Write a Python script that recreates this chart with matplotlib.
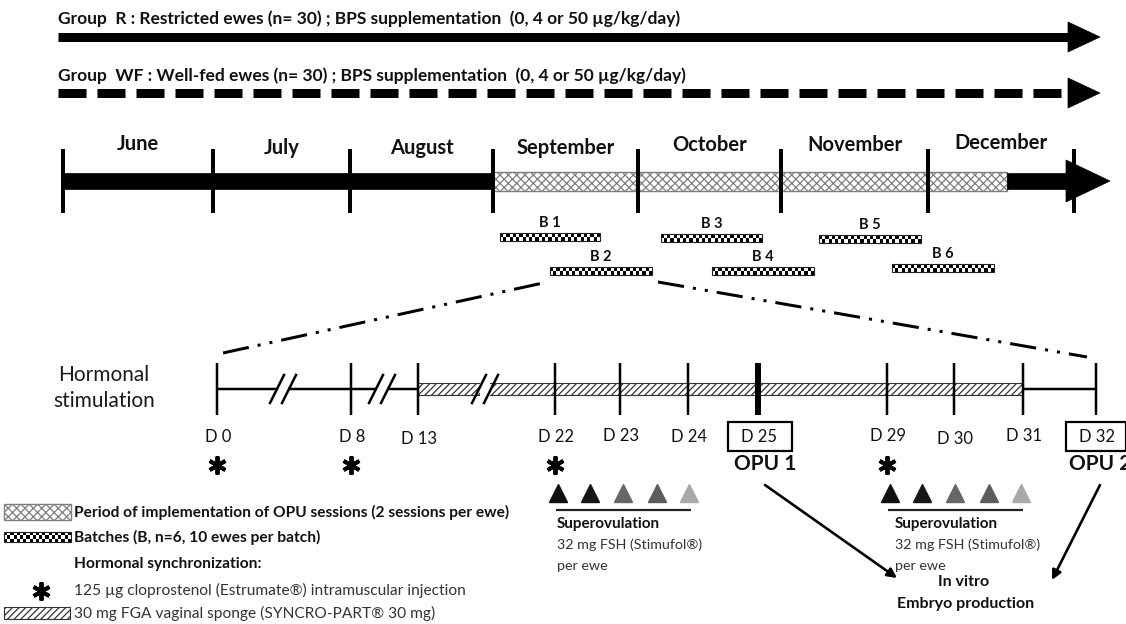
import numpy as np
import matplotlib
matplotlib.use("Agg")
import matplotlib.pyplot as plt
from matplotlib.patches import Rectangle, Polygon, FancyArrowPatch
from matplotlib.lines import Line2D

plt.rcParams['font.family'] = ['Lato', 'DejaVu Sans']
plt.rcParams['hatch.linewidth'] = 0.9
plt.rcParams['lines.scale_dashes'] = False

# ---------------- data ----------------
group_texts = ["Group  R : Restricted ewes (n= 30) ; BPS supplementation  (0, 4 or 50 \u00b5g/kg/day)",
               "Group  WF : Well-fed ewes (n= 30) ; BPS supplementation  (0, 4 or 50 \u00b5g/kg/day)"]
group_styles = ["solid", "dashed"]
months = ["June", "July", "August", "September", "October", "November", "December"]
month_bounds = [63, 213, 350, 493, 638, 781, 928, 1074]
month_label_y = [144, 148, 148, 148, 145, 145, 143]
opu_period = (493, 1007)
batches = ["B 1", "B 2", "B 3", "B 4", "B 5", "B 6"]
batch_start = [500, 550, 661, 712, 819, 892]
batch_end = [600, 652, 762, 814, 921, 994]
batch_y = [237, 271, 238, 271, 239, 268]
day_labels = ["D 0", "D 8", "D 13", "D 22", "D 23", "D 24", "D 25", "D 29", "D 30", "D 31", "D 32"]
day_pos = [217, 351, 418, 555, 620, 688, 758, 887, 954, 1023, 1096]
day_label_y = [437, 437, 439, 437, 436, 437, 437, 436, 439, 436, 437]
injection_days = ["D 0", "D 8", "D 22", "D 29"]
opu_days = ["D 25", "D 32"]
opu_names = ["OPU 1", "OPU 2"]
sponge_days = ("D 13", "D 31")
break_marks = [283, 382, 485]
fsh_days = ["D 22", "D 29"]
fsh_text_x = [557, 895]
fsh_offsets = [3, 35, 68, 102, 134]
fsh_shades = ['#111111', '#161616', '#666666', '#5c5c5c', '#a8a8a8']
legend_items = ["Period of implementation of OPU sessions (2 sessions per ewe)",
                "Batches (B, n=6, 10 ewes per batch)",
                "Hormonal synchronization:",
                "125 \u00b5g cloprostenol (Estrumate\u00ae) intramuscular injection",
                "30 mg FGA vaginal sponge (SYNCRO-PART\u00ae 30 mg)"]
legend_y = [512, 537, 564, 590, 613]

W, H = 1126, 624
fig = plt.figure(figsize=(W / 100, H / 100), dpi=100)
ax = fig.add_axes([0, 0, 1, 1])


def px(v):
    return v * 0.72


def hline(x0, x1, y, lw, color='black', z=2):
    ax.add_line(Line2D([x0, x1], [y, y], lw=px(lw), color=color, solid_capstyle='butt', zorder=z))


def vline(x, y0, y1, lw, color='black', z=5):
    ax.add_line(Line2D([x, x], [y0, y1], lw=px(lw), color=color, solid_capstyle='butt', zorder=z))


def checker(x0, x1, yc, h=8, cell=3.2):
    nx = max(1, int(round((x1 - x0) / cell)))
    ny = max(1, int(round(h / cell)))
    pat = np.add.outer(np.arange(ny), np.arange(nx)) % 2
    ax.imshow(pat, cmap='gray', vmin=0, vmax=1, extent=(x0, x1, yc + h / 2, yc - h / 2),
              interpolation='nearest', aspect='auto', zorder=3)
    ax.add_patch(Rectangle((x0, yc - h / 2), x1 - x0, h, fill=False, ec='#222222', lw=0.8, zorder=4))


# ---------------- group arrows ----------------
grp_y = [37, 93]
txt_y = [19, 76]
for t, sty, gy, ty in zip(group_texts, group_styles, grp_y, txt_y):
    ax.text(58, ty, t, fontsize=12.5, fontweight='bold', ha='left', va='center', color='#111111')
    if sty == 'solid':
        hline(58, 1072, gy, 9)
    else:
        ln = Line2D([58, 1072], [gy, gy], lw=px(9), color='black', solid_capstyle='butt',
                    dash_capstyle='butt')
        ln.set_dashes([px(28), px(11)])
        ax.add_line(ln)
    ax.add_patch(Polygon([(1068, gy - 15), (1100, gy), (1068, gy + 15)], closed=True,
                         fc='black', ec='black', lw=0.5))

# ---------------- month timeline ----------------
bar_y = 181
ax.add_patch(Rectangle((month_bounds[0], bar_y - 8), opu_period[0] - month_bounds[0], 16,
                       fc='black', ec='black', lw=0.5, zorder=2))
ax.add_patch(Rectangle((opu_period[0], bar_y - 9.5), opu_period[1] - opu_period[0], 19,
                       fc='white', ec='#7f7f7f', hatch='xxxx', lw=1, zorder=2))
ax.add_patch(Rectangle((opu_period[1], bar_y - 8), 1068 - opu_period[1], 16,
                       fc='black', ec='black', lw=0.5, zorder=2))
ax.add_patch(Polygon([(1066, bar_y - 21), (1110, bar_y), (1066, bar_y + 21)], closed=True,
                     fc='black', ec='black', lw=0.5, zorder=2))
for xb in month_bounds:
    vline(xb, 149, 213, 4)
for i, m in enumerate(months):
    xc = (month_bounds[i] + month_bounds[i + 1]) / 2
    ax.text(xc, month_label_y[i], m, fontsize=14.5, fontweight='bold', ha='center', va='center',
            color='#111111')

# batches
for name, x0, x1, yc in zip(batches, batch_start, batch_end, batch_y):
    checker(x0, x1, yc)
    ax.text((x0 + x1) / 2, yc - 14, name, fontsize=10.5, fontweight='bold', ha='center',
            va='center', color='#111111')

# zoom lines (dash-dot-dot)
for (xa, ya, xb2, yb) in [(223, 353, 543, 283), (658, 282, 1087, 357)]:
    ln = Line2D([xa, xb2], [ya, yb], lw=px(3), color='black', solid_capstyle='butt',
                dash_capstyle='butt')
    ln.set_dashes([19, 6.5, 2.2, 6.5, 2.2, 6.5])
    ax.add_line(ln)

# ---------------- hormonal stimulation ----------------
ax.text(104, 375, "Hormonal", fontsize=15, ha='center', va='center', color='#1a1a1a')
ax.text(104, 401, "stimulation", fontsize=15, ha='center', va='center', color='#1a1a1a')

dpos = dict(zip(day_labels, day_pos))
line_y = 389
s0, s1 = dpos[sponge_days[0]], dpos[sponge_days[1]]
hline(dpos["D 0"], s0, line_y, 2.5)
ax.add_patch(Rectangle((s0, line_y - 6), s1 - s0, 12, fc='white', ec='#333333',
                       hatch='/////', lw=0.8, zorder=2))
hline(s1, dpos["D 32"], line_y, 2.5)

# breaks
for bx in break_marks:
    ax.add_patch(Rectangle((bx - 5, line_y - 8), 10, 16, fc='white', ec='none', zorder=3))
    for dx in (-6, 6):
        ax.add_line(Line2D([bx + dx - 7, bx + dx + 7], [line_y + 14, line_y - 14], lw=px(2.5),
                           color='black', zorder=4))

for lab, x, ly in zip(day_labels, day_pos, day_label_y):
    lw = 6 if lab == "D 25" else 2.5
    vline(x, 363, 415, lw)
    ax.text(x + 1, ly, lab, fontsize=12, ha='center', va='center', color='#111111')

for lab, name in zip(opu_days, opu_names):
    x = dpos[lab]
    ax.add_patch(Rectangle((x - 30, 422), 64 if lab == "D 25" else 60, 29, fill=False,
                           ec='black', lw=1.6))
    if lab == "D 25":
        ax.text(x + 7, 464, name, fontsize=15, fontweight='bold', ha='center', va='center',
                color='#111111')
    else:
        ax.text(x - 27, 464, name, fontsize=15, fontweight='bold', ha='left', va='center',
                color='#111111')

for lab in injection_days:
    ax.plot([dpos[lab]], [465], marker=(6, 2, 0), ms=13, mew=2.8, color='black')

# superovulation
for lab, tx in zip(fsh_days, fsh_text_x):
    x0 = dpos[lab]
    for off, c in zip(fsh_offsets, fsh_shades):
        ax.plot([x0 + off], [493], marker='^', ms=13, color=c, mec=c, ls='none')
    hline(x0 + 1, x0 + 136, 510, 2.2, color='#222222')
    ax.text(tx, 524, "Superovulation", fontsize=11, fontweight='bold', ha='left',
            va='center', color='#111111')
    ax.text(tx, 545, "32 mg FSH (Stimufol\u00ae)", fontsize=10.3, ha='left', va='center',
            color='#333333')
    ax.text(tx, 566, "per ewe", fontsize=10.3, ha='left', va='center', color='#333333')

# arrows to IVP
for (xa, ya, xb2, yb) in [(765, 485, 897, 578), (1100, 485, 1052, 580)]:
    ax.add_patch(FancyArrowPatch((xa, ya), (xb2, yb), arrowstyle='-|>', mutation_scale=14,
                                 lw=px(2.6), color='black', shrinkA=0, shrinkB=0))
ax.text(964, 582, "In vitro", fontsize=11.5, fontweight='bold', ha='center', va='center',
        color='#111111')
ax.text(966, 604, "Embryo production", fontsize=11.5, fontweight='bold', ha='center', va='center',
        color='#111111')

# ---------------- legend ----------------
ax.add_patch(Rectangle((4, 504), 67, 16, fc='white', ec='#7f7f7f', hatch='xxxx', lw=1))
checker(4, 71, 537, h=10)
ax.plot([41], [591], marker=(6, 2, 0), ms=13, mew=2.8, color='black')
ax.add_patch(Rectangle((4, 607), 66, 12, fc='white', ec='#333333', hatch='/////', lw=0.8))
for i, (t, y) in enumerate(zip(legend_items, legend_y)):
    bold = i < 3
    ax.text(74, y, t, fontsize=11.2, fontweight='bold' if bold else 'normal', ha='left',
            va='center', color='#111111' if bold else '#333333')

ax.set_xlim(0, W)
ax.set_ylim(H, 0)
ax.axis('off')
fig.savefig("out.png", dpi=100)
